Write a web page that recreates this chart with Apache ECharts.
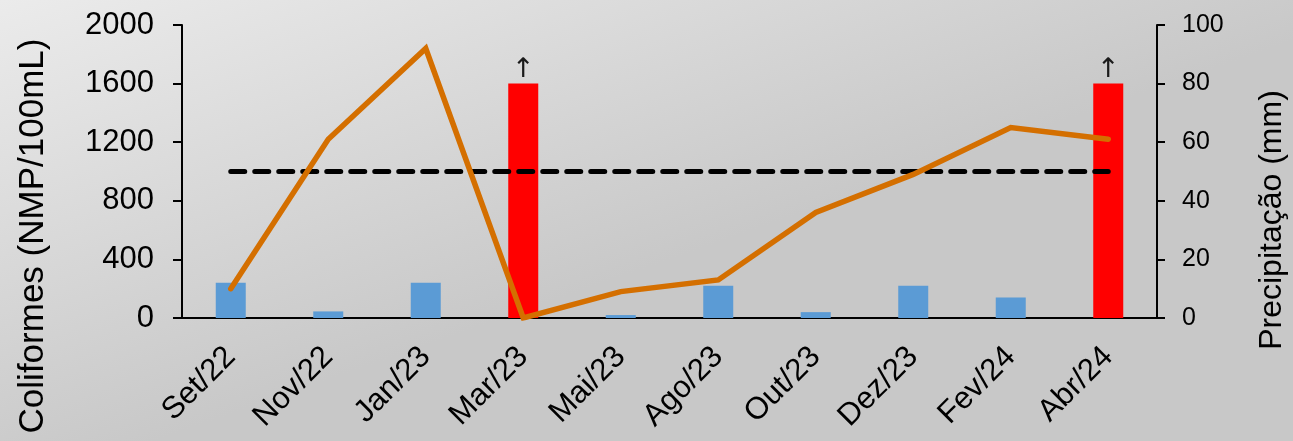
<!DOCTYPE html>
<html>
<head>
<meta charset="utf-8">
<script src="https://cdn.jsdelivr.net/npm/echarts@6/dist/echarts.min.js"></script>
<style>
  html, body { margin: 0; padding: 0; }
  #chart { width: 1293px; height: 441px; }
</style>
</head>
<body>
<div id="chart"></div>
<script>
// Sampling campaigns
const categories = ['Set/22', 'Nov/22', 'Jan/23', 'Mar/23', 'Mai/23', 'Ago/23', 'Out/23', 'Dez/23', 'Fev/24', 'Abr/24'];
// Coliformes (NMP/100mL); values at 1600 are above the detection limit (shown in red with an arrow)
const coliformes = [240, 45, 240, 1600, 20, 220, 40, 220, 140, 1600];
const aboveLimit = [false, false, false, true, false, false, false, false, false, true];
// Precipitação (mm)
const precipitacao = [10, 61, 92, 0, 9, 13, 36, 49, 65, 61];
// Reference limit (NMP/100mL)
const limite = [1000, 1000, 1000, 1000, 1000, 1000, 1000, 1000, 1000, 1000];
// Axis ticks
const leftTicks = { min: 0, max: 2000, interval: 400 };
const rightTicks = { min: 0, max: 100, interval: 20 };

const FONT = '"Liberation Sans", Arial, sans-serif';

const chart = echarts.init(document.getElementById('chart'));

const barData = coliformes.map((v, i) => ({
  value: v,
  itemStyle: { color: aboveLimit[i] ? '#ff0000' : '#5b9bd5' },
  label: aboveLimit[i]
    ? { show: true, position: 'top', formatter: '\u2191', fontSize: 27, color: '#1a1a1a', distance: 0, fontFamily: '"DejaVu Sans", sans-serif' }
    : { show: false }
}));

chart.setOption({
  backgroundColor: {
    type: 'linear', x: 0, y: 0, x2: 0.12, y2: 1,
    colorStops: [
      { offset: 0, color: '#ebebeb' },
      { offset: 1, color: '#c8c8c8' }
    ]
  },
  animation: false,
  grid: { left: 182, right: 136, top: 25, bottom: 123 },
  xAxis: {
    type: 'category',
    data: categories,
    boundaryGap: true,
    axisLine: { show: true, lineStyle: { color: '#000', width: 2 } },
    axisTick: { show: false },
    axisLabel: {
      rotate: 45, margin: 34, fontSize: 31, color: '#000', fontFamily: FONT,
      interval: 0
    },
    splitLine: { show: false }
  },
  yAxis: [
    {
      type: 'value',
      min: leftTicks.min, max: leftTicks.max, interval: leftTicks.interval,
      position: 'left',
      axisLine: { show: true, lineStyle: { color: '#000', width: 2 } },
      axisTick: { show: true, inside: false, length: 9, lineStyle: { color: '#000', width: 2 } },
      axisLabel: { fontSize: 31, color: '#000', fontFamily: FONT, margin: 28, formatter: v => String(v) },
      splitLine: { show: false }
    },
    {
      type: 'value',
      min: rightTicks.min, max: rightTicks.max, interval: rightTicks.interval,
      position: 'right',
      axisLine: { show: true, lineStyle: { color: '#000', width: 2 } },
      axisTick: { show: true, inside: false, length: 8, lineStyle: { color: '#000', width: 2 } },
      axisLabel: { fontSize: 25, color: '#000', fontFamily: FONT, margin: 25, formatter: v => String(v) },
      splitLine: { show: false }
    }
  ],
  series: [
    {
      name: 'Coliformes',
      type: 'bar',
      yAxisIndex: 0,
      barWidth: 30,
      data: barData,
      z: 2
    },
    {
      name: 'Limite',
      type: 'line',
      yAxisIndex: 0,
      data: limite,
      symbol: 'none',
      lineStyle: { color: '#000', width: 5, type: [14, 10], cap: 'round' },
      z: 3
    },
    {
      name: 'Precipitação',
      type: 'line',
      yAxisIndex: 1,
      data: precipitacao,
      symbol: 'none',
      lineStyle: { color: '#d46f00', width: 5.5, cap: 'round', join: 'miter' },
      z: 4
    }
  ],
  graphic: [
    {
      type: 'text',
      x: 33, y: 236,
      rotation: Math.PI / 2,
      style: {
        text: 'Coliformes (NMP/100mL)',
        fontSize: 35, fontFamily: FONT, fill: '#000',
        textAlign: 'center', textVerticalAlign: 'middle'
      }
    },
    {
      type: 'text',
      x: 1272, y: 220,
      rotation: Math.PI / 2,
      style: {
        text: 'Precipitação (mm)',
        fontSize: 32, fontFamily: FONT, fill: '#000',
        textAlign: 'center', textVerticalAlign: 'middle'
      }
    }
  ]
});
</script>
</body>
</html>
